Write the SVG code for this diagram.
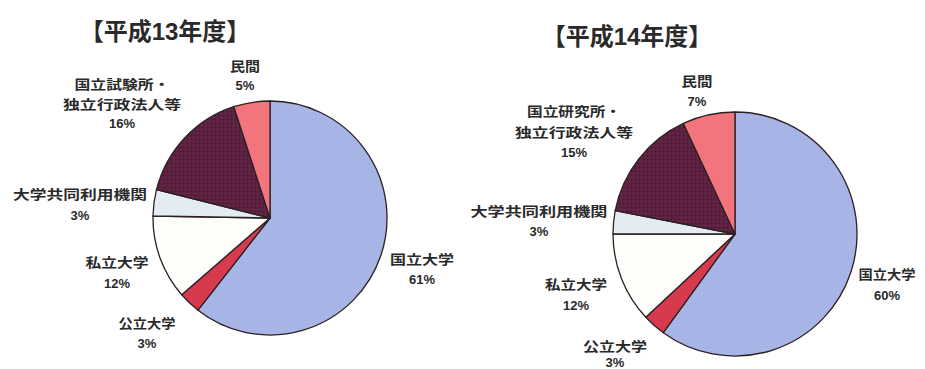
<svg xmlns="http://www.w3.org/2000/svg" width="925" height="369" viewBox="0 0 925 369">
<style>
.t{font-family:"Liberation Sans","Noto Sans CJK JP",sans-serif;font-weight:bold;fill:#2a2a2a;text-anchor:middle}
.title{font-size:24px}
.lb{font-size:13px}
.s{stroke:#2b2023;stroke-width:1.3;stroke-linejoin:round}
.blue{fill:url(#bluetex)}
.crim{fill:#d63a4c}
.white{fill:#fdfdf9}
.light{fill:#e4ecf2}
.maroon{fill:url(#marootex)}
.salmon{fill:#f2747c}
</style>
<defs>
<pattern id="bluetex" width="4" height="4" patternUnits="userSpaceOnUse">
<rect width="4" height="4" fill="#a6b4e6"/>
<rect x="0" y="0" width="1" height="1" fill="#c2a9dc"/>
<rect x="2" y="1" width="1" height="1" fill="#9ec8ee"/>
<rect x="1" y="3" width="1" height="1" fill="#b5b0e4"/>
<rect x="3" y="2" width="1" height="1" fill="#8fb6e8"/>
</pattern>
<pattern id="marootex" width="4" height="4" patternUnits="userSpaceOnUse">
<rect width="4" height="4" fill="#5c2140"/>
<rect x="1" y="1" width="1" height="1" fill="#7a3654"/>
<rect x="3" y="3" width="1" height="1" fill="#4a1630"/>
</pattern>
</defs>

<g id="chart-h13">
<text class="t title" x="165" y="40">【平成13年度】</text>
<g id="h13-kokuritsu">
<path class="s blue" d="M270,218 L270,101 A117,117 0 1 1 198.0,310.2 Z"/>
<text class="t lb" x="422" y="264" textLength="64" lengthAdjust="spacingAndGlyphs">国立大学</text>
<text class="t lb" x="422" y="284">61%</text>
</g>
<g id="h13-kouritsu">
<path class="s crim" d="M270,218 L198.0,310.2 A117,117 0 0 1 181.7,294.8 Z"/>
<text class="t lb" x="147" y="328" textLength="57" lengthAdjust="spacingAndGlyphs">公立大学</text>
<text class="t lb" x="147" y="348">3%</text>
</g>
<g id="h13-shiritsu">
<path class="s white" d="M270,218 L181.7,294.8 A117,117 0 0 1 153.0,216.0 Z"/>
<text class="t lb" x="117" y="267" textLength="63" lengthAdjust="spacingAndGlyphs">私立大学</text>
<text class="t lb" x="117" y="288">12%</text>
</g>
<g id="h13-kyodo">
<path class="s light" d="M270,218 L153.0,216.0 A117,117 0 0 1 156.5,189.7 Z"/>
<text class="t lb" x="80" y="199" textLength="134" lengthAdjust="spacingAndGlyphs">大学共同利用機関</text>
<text class="t lb" x="80" y="220">3%</text>
</g>
<g id="h13-shiken">
<path class="s maroon" d="M270,218 L156.5,189.7 A117,117 0 0 1 233.8,106.7 Z"/>
<text class="t lb" x="122" y="89" textLength="95" lengthAdjust="spacingAndGlyphs">国立試験所・</text>
<text class="t lb" x="122" y="109" textLength="118" lengthAdjust="spacingAndGlyphs">独立行政法人等</text>
<text class="t lb" x="122" y="128">16%</text>
</g>
<g id="h13-minkan">
<path class="s salmon" d="M270,218 L233.8,106.7 A117,117 0 0 1 270,101 Z"/>
<text class="t lb" x="245" y="71" textLength="30" lengthAdjust="spacingAndGlyphs">民間</text>
<text class="t lb" x="245" y="90">5%</text>
</g>
</g>

<g id="chart-h14">
<text class="t title" x="627" y="45">【平成14年度】</text>
<g id="h14-kokuritsu">
<path class="s blue" d="M735,234 L735,112 A122,122 0 1 1 663.3,332.7 Z"/>
<text class="t lb" x="887" y="279" textLength="57" lengthAdjust="spacingAndGlyphs">国立大学</text>
<text class="t lb" x="887" y="300">60%</text>
</g>
<g id="h14-kouritsu">
<path class="s crim" d="M735,234 L663.3,332.7 A122,122 0 0 1 645.8,317.2 Z"/>
<text class="t lb" x="615" y="351" textLength="64" lengthAdjust="spacingAndGlyphs">公立大学</text>
<text class="t lb" x="615" y="367">3%</text>
</g>
<g id="h14-shiritsu">
<path class="s white" d="M735,234 L645.8,317.2 A122,122 0 0 1 613,234 Z"/>
<text class="t lb" x="576" y="289" textLength="62" lengthAdjust="spacingAndGlyphs">私立大学</text>
<text class="t lb" x="576" y="310">12%</text>
</g>
<g id="h14-kyodo">
<path class="s light" d="M735,234 L613,234 A122,122 0 0 1 615.2,210.7 Z"/>
<text class="t lb" x="539" y="216" textLength="137" lengthAdjust="spacingAndGlyphs">大学共同利用機関</text>
<text class="t lb" x="539" y="236">3%</text>
</g>
<g id="h14-kenkyu">
<path class="s maroon" d="M735,234 L615.2,210.7 A122,122 0 0 1 683.4,123.4 Z"/>
<text class="t lb" x="574" y="116" textLength="94" lengthAdjust="spacingAndGlyphs">国立研究所・</text>
<text class="t lb" x="574" y="137" textLength="118" lengthAdjust="spacingAndGlyphs">独立行政法人等</text>
<text class="t lb" x="574" y="157">15%</text>
</g>
<g id="h14-minkan">
<path class="s salmon" d="M735,234 L683.4,123.4 A122,122 0 0 1 735,112 Z"/>
<text class="t lb" x="697" y="86" textLength="31" lengthAdjust="spacingAndGlyphs">民間</text>
<text class="t lb" x="697" y="106">7%</text>
</g>
</g>
</svg>
